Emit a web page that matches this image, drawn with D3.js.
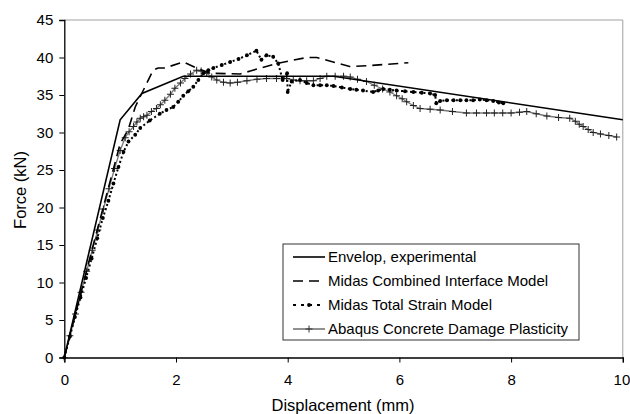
<!DOCTYPE html>
<html><head><meta charset="utf-8">
<script src="https://cdn.jsdelivr.net/npm/d3@7"></script>
<style>body{margin:0;background:#fff}svg{display:block}text{font-family:"Liberation Sans",Arial,sans-serif;fill:#000}</style>
</head><body><svg id="c" width="630" height="414"></svg>
<script>
// Envelop, experimental
const envX = [0, 1.0, 1.39, 2.13, 4.82, 10];
const envY = [0, 31.7, 35.2, 37.5, 37.5, 31.7];
// Midas Combined Interface Model
const cimX = [0, 0.5, 1.0, 1.14, 1.27, 1.36, 1.59, 1.68, 1.8, 2.13, 2.43, 2.61, 3.15, 3.33, 3.8, 4.34, 4.52, 5.11, 5.41, 6.16];
const cimY = [0, 14.5, 28.5, 30.3, 33.4, 34.8, 38.3, 38.6, 38.6, 39.4, 38.4, 37.9, 37.8, 38.2, 39.2, 40.0, 40.0, 38.8, 38.9, 39.3];
// Midas Total Strain Model
const tsX = [0,0.1,0.19,0.29,0.39,0.49,0.59,0.69,0.79,0.88,0.97,1.06,1.15,1.27,1.36,1.53,1.71,1.83,1.95,2.04,2.13,2.22,2.31,2.4,2.49,2.58,2.67,2.82,2.97,3.12,3.27,3.44,3.53,3.62,3.74,3.83,3.91,3.99,4.0,4.07,4.22,4.34,4.46,4.58,4.70,4.82,4.97,5.12,5.23,5.35,5.53,5.62,5.71,5.83,5.95,6.1,6.25,6.4,6.55,6.64,6.66,6.73,6.85,6.97,7.09,7.2,7.32,7.44,7.56,7.68,7.78,7.86];
const tsY = [0,2.8,5.4,8.0,10.6,13.2,15.9,18.6,20.9,23.2,25.4,27.4,28.8,29.7,30.6,31.6,32.5,33.0,33.4,34.1,34.9,35.5,36.1,37.0,37.9,38.3,38.6,39.0,39.4,39.8,40.3,40.9,39.7,40.3,40.1,39.2,37.0,37.9,35.4,36.8,37.0,36.6,36.3,36.3,36.3,36.2,36.0,35.8,35.7,35.6,35.4,35.6,35.8,35.7,35.6,35.5,35.4,35.3,35.2,35.0,33.9,34.2,34.3,34.3,34.3,34.3,34.3,34.4,34.3,34.2,34.0,33.9];
// Abaqus Concrete Damage Plasticity
const abX = [0,0.1,0.2,0.3,0.4,0.5,0.6,0.7,0.8,0.9,1.0,1.09,1.16,1.24,1.3,1.36,1.42,1.48,1.56,1.65,1.72,1.8,1.9,1.98,2.08,2.16,2.26,2.37,2.45,2.55,2.64,2.73,2.85,2.97,3.1,3.27,3.45,3.62,3.8,3.98,4.1,4.22,4.34,4.46,4.58,4.70,4.85,5.0,5.12,5.25,5.41,5.55,5.7,5.83,5.95,6.05,6.13,6.25,6.37,6.55,6.73,6.95,7.2,7.38,7.56,7.7,7.85,8.0,8.15,8.28,8.45,8.64,8.85,9.05,9.15,9.22,9.29,9.38,9.47,9.6,9.75,9.89];
const abY = [0,2.9,5.8,8.7,11.5,14.3,17.0,19.8,22.5,25.2,27.6,29.3,30.1,30.8,31.4,31.9,32.1,32.3,32.8,33.2,33.7,34.3,35.1,35.9,36.6,37.2,37.8,38.3,38.2,37.9,37.4,37.0,36.7,36.6,36.7,36.9,37.1,37.2,37.2,37.2,37.0,36.9,36.9,36.9,37.2,37.5,37.5,37.5,37.4,37.1,36.8,36.3,35.8,35.4,34.9,34.5,34.1,33.6,33.2,33.1,33.0,32.8,32.6,32.6,32.6,32.6,32.6,32.6,32.7,32.8,32.5,32.2,32.0,31.9,31.5,31.1,30.8,30.4,30.0,29.8,29.6,29.4];
const xTicks = [0,2,4,6,8,10];
const yTicks = [0,5,10,15,20,25,30,35,40,45];
const seriesNames = ["Envelop, experimental","Midas Combined Interface Model","Midas Total Strain Model","Abaqus Concrete Damage Plasticity"];

const svg = d3.select("#c");
const L=64.3, R=622.8, T=20, B=357.5;
const x = d3.scaleLinear().domain([0,10]).range([L,R]);
const y = d3.scaleLinear().domain([0,45]).range([B,T]);
const zip = (a,b)=>a.map((v,i)=>[v,b[i]]);
const FONT = "'Liberation Sans',Arial,sans-serif";

svg.append("path").attr("d",`M${L},${T}H${R}V${B}`).attr("fill","none").attr("stroke","#a0a0a0").attr("stroke-width",1);

const yAx = svg.append("g").attr("transform",`translate(${L},0)`)
  .call(d3.axisLeft(y).tickValues(yTicks).tickSize(5).tickPadding(6));
const xAx = svg.append("g").attr("transform",`translate(0,${B})`)
  .call(d3.axisBottom(x).tickValues(xTicks).tickSize(5).tickPadding(12));
[yAx,xAx].forEach(g=>{g.select(".domain").attr("stroke","#000").attr("stroke-width",1.3);
  g.selectAll(".tick line").attr("stroke","#000");
  g.selectAll("text").attr("font-size",15).attr("font-family",FONT).attr("fill","#000");});
// keep the last label inside the page edge
xAx.selectAll(".tick").filter(d=>d===10).select("text").attr("text-anchor","end").attr("x",7);

const line = d3.line().x(d=>x(d[0])).y(d=>y(d[1]));
const plot = svg.append("g");

plot.append("path").datum(zip(abX,abY)).attr("d",line).attr("fill","none").attr("stroke","#7a7a7a").attr("stroke-width",1.3);
plot.append("g").selectAll("path").data(zip(abX,abY)).join("path")
  .attr("d",d=>`M${x(d[0])-3.5},${y(d[1])}h7M${x(d[0])},${y(d[1])-3.5}v7`).attr("stroke","#222").attr("stroke-width",1);
plot.append("path").datum(zip(envX,envY)).attr("d",line).attr("fill","none").attr("stroke","#000").attr("stroke-width",1.6);
plot.append("path").datum(zip(cimX,cimY)).attr("d",line).attr("fill","none").attr("stroke","#000").attr("stroke-width",1.6).attr("stroke-dasharray","10,6");
plot.append("path").datum(zip(tsX,tsY)).attr("d",line).attr("fill","none").attr("stroke","#000").attr("stroke-width",2).attr("stroke-dasharray","2,2.5");
plot.append("g").selectAll("circle").data(zip(tsX,tsY)).join("circle")
  .attr("cx",d=>x(d[0])).attr("cy",d=>y(d[1])).attr("r",1.9).attr("fill","#000");

svg.append("text").attr("x",343).attr("y",411).attr("text-anchor","middle").attr("font-size",16.5).text("Displacement (mm)");
svg.append("text").attr("transform","translate(26,190) rotate(-90)").attr("text-anchor","middle").attr("font-size",16.5).text("Force (kN)");

const lg = svg.append("g");
lg.append("rect").attr("x",283).attr("y",244).attr("width",296).attr("height",96).attr("fill","#fff").attr("stroke","#333").attr("stroke-width",1);
const rowY = [257,281,305,329];
seriesNames.forEach((n,i)=>{
  lg.append("text").attr("x",328).attr("y",rowY[i]+5).attr("font-size",15).text(n);
});
lg.append("line").attr("x1",293).attr("x2",325).attr("y1",rowY[0]).attr("y2",rowY[0]).attr("stroke","#000").attr("stroke-width",1.6);
lg.append("line").attr("x1",293).attr("x2",325).attr("y1",rowY[1]).attr("y2",rowY[1]).attr("stroke","#000").attr("stroke-width",1.6).attr("stroke-dasharray","10,6");
lg.append("line").attr("x1",293).attr("x2",325).attr("y1",rowY[2]).attr("y2",rowY[2]).attr("stroke","#000").attr("stroke-width",2).attr("stroke-dasharray","3,5");
lg.append("circle").attr("cx",309).attr("cy",rowY[2]).attr("r",1.9).attr("fill","#000");
lg.append("line").attr("x1",293).attr("x2",325).attr("y1",rowY[3]).attr("y2",rowY[3]).attr("stroke","#555").attr("stroke-width",1.3);
lg.append("path").attr("d",`M305.5,${rowY[3]}h7M309,${rowY[3]-3.5}v7`).attr("stroke","#333");
</script></body></html>
